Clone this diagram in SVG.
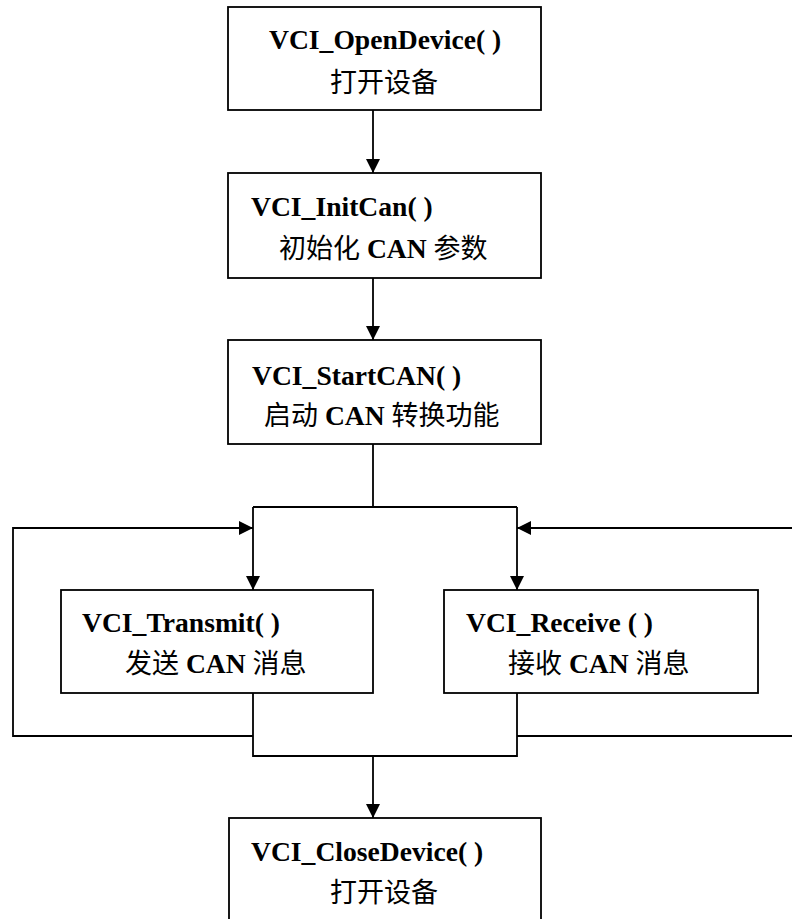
<svg xmlns="http://www.w3.org/2000/svg" width="792" height="919" viewBox="0 0 792 919">
<style>
.box{fill:#fff;stroke:#000;stroke-width:1.8}
.t{font-family:"Liberation Serif","Noto Sans CJK SC",serif;font-weight:bold;font-size:27.6px;fill:#000}
.c{font-family:"Noto Sans CJK SC",sans-serif;font-weight:normal;font-size:27px}
.conn{fill:none;stroke:#000;stroke-width:1.8}
</style>
<defs>
<marker id="arr" viewBox="0 0 10 10" refX="10" refY="5" markerUnits="userSpaceOnUse" markerWidth="14" markerHeight="14" orient="auto" preserveAspectRatio="none">
<path d="M0,0 L10,5 L0,10 z" fill="#000"/>
</marker>
</defs>
<rect width="792" height="919" fill="#fff"/>
<g id="connectors">
<path class="conn" d="M373,110 V173" marker-end="url(#arr)"/>
<path class="conn" d="M373,278 V340" marker-end="url(#arr)"/>
<path class="conn" d="M373,444 V507 M253,507 H517"/>
<path class="conn" d="M253,507 V590" marker-end="url(#arr)"/>
<path class="conn" d="M517,507 V590" marker-end="url(#arr)"/>
<path class="conn" d="M253,693 V756 H517 V693"/>
<path class="conn" d="M253,736 H13 V528 H253" marker-end="url(#arr)"/>
<path class="conn" d="M517,736 H800"/>
<path class="conn" d="M800,528 H517" marker-end="url(#arr)"/>
<path class="conn" d="M373,756 V818" marker-end="url(#arr)"/>
</g>
<g id="open">
<rect class="box" x="228" y="7" width="313" height="103"/>
<text class="t" x="269" y="49">VCI_OpenDevice( )</text>
<text class="t c" x="330" y="92">打开设备</text>
</g>
<g id="init">
<rect class="box" x="228" y="173" width="313" height="105"/>
<text class="t" x="251" y="216">VCI_InitCan( )</text>
<text class="t" x="279" y="258"><tspan class="c">初始化</tspan> CAN <tspan class="c">参数</tspan></text>
</g>
<g id="start">
<rect class="box" x="228" y="340" width="313" height="104"/>
<text class="t" x="252" y="385">VCI_StartCAN( )</text>
<text class="t" x="264" y="425"><tspan class="c">启动</tspan> CAN <tspan class="c">转换功能</tspan></text>
</g>
<g id="transmit">
<rect class="box" x="61" y="590" width="312" height="103"/>
<text class="t" x="82" y="632">VCI_Transmit( )</text>
<text class="t" x="125" y="673"><tspan class="c">发送</tspan> CAN <tspan class="c">消息</tspan></text>
</g>
<g id="receive">
<rect class="box" x="444" y="590" width="314" height="103"/>
<text class="t" x="466" y="632">VCI_Receive ( )</text>
<text class="t" x="508" y="673"><tspan class="c">接收</tspan> CAN <tspan class="c">消息</tspan></text>
</g>
<g id="close">
<rect class="box" x="229" y="818" width="312" height="120"/>
<text class="t" x="251" y="861">VCI_CloseDevice( )</text>
<text class="t c" x="330" y="902">打开设备</text>
</g>
</svg>
